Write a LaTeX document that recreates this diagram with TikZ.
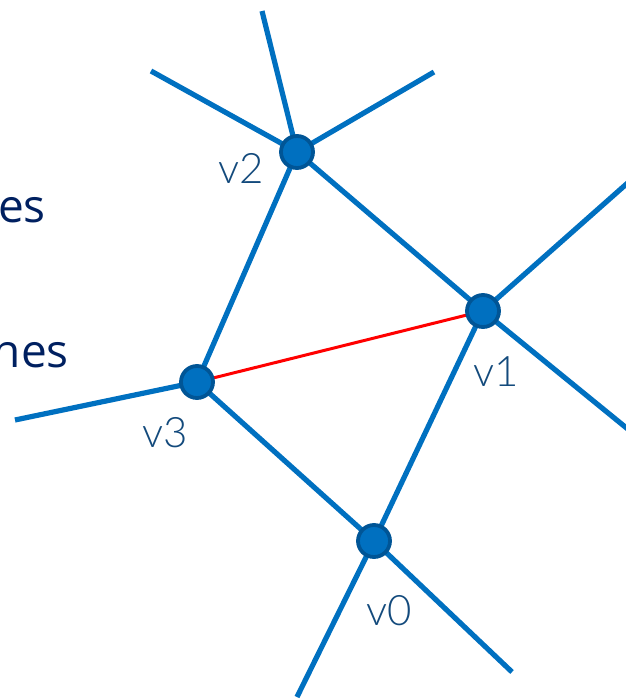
\documentclass[tikz,border=0pt]{standalone}
\usepackage{fontspec}
\setmainfont{Open Sans}
\newfontfamily\lblfont{Lato Light}
\definecolor{edgeblue}{HTML}{0070C0}
\definecolor{nodeedge}{HTML}{005596}
\definecolor{navy}{HTML}{002060}
\definecolor{lblcol}{HTML}{134A7C}
\begin{document}
\begin{tikzpicture}[x=1pt,y=-1pt,
  edge/.style={draw=edgeblue,line width=5.2pt},
  redge/.style={draw=red,line width=3pt},
  vert/.style={circle,fill=edgeblue,draw=nodeedge,line width=3.8pt,minimum size=32pt,inner sep=0pt},
  vlabel/.style={anchor=base,text=lblcol,font=\lblfont\fontsize{42}{42}\selectfont,inner sep=0pt},
  sidetext/.style={anchor=base east,text=navy,font=\fontsize{46}{46}\selectfont,inner sep=0pt}]
\useasboundingbox (0,0) rectangle (625,699);
\coordinate (v2) at (297,152);
\coordinate (v1) at (483,311);
\coordinate (v3) at (197,382);
\coordinate (v0) at (374,541);
\coordinate (a1) at (262,11);
\coordinate (a2) at (151,71);
\coordinate (a3) at (434,72);
\coordinate (b1) at (640,172);
\coordinate (b2) at (640,439);
\coordinate (c1) at (15,420);
\coordinate (d1) at (297,697);
\coordinate (d2) at (512,672);
\path[edge] (v2) -- (a1);
\path[edge] (v2) -- (a2);
\path[edge] (v2) -- (a3);
\path[edge] (v2) -- (v1);
\path[edge] (v2) -- (v3);
\path[edge] (v1) -- (b1);
\path[edge] (v1) -- (b2);
\path[edge] (v1) -- (v0);
\path[edge] (v3) -- (c1);
\path[edge] (v3) -- (v0);
\path[edge] (v0) -- (d1);
\path[edge] (v0) -- (d2);
\path[redge] (v3) -- (v1);
\node[vert] (n2) at (v2) {};
\node[vert] (n1) at (v1) {};
\node[vert] (n3) at (v3) {};
\node[vert] (n0) at (v0) {};
\node[vlabel] (l2) at (241,183) {v2};
\node[vlabel] (l1) at (496,386) {v1};
\node[vlabel] (l3) at (165,447) {v3};
\node[vlabel] (l0) at (389,625) {v0};
\node[sidetext] (t1) at (46,222) {es};
\node[sidetext] (t2) at (69,367) {hes};
\end{tikzpicture}
\end{document}
